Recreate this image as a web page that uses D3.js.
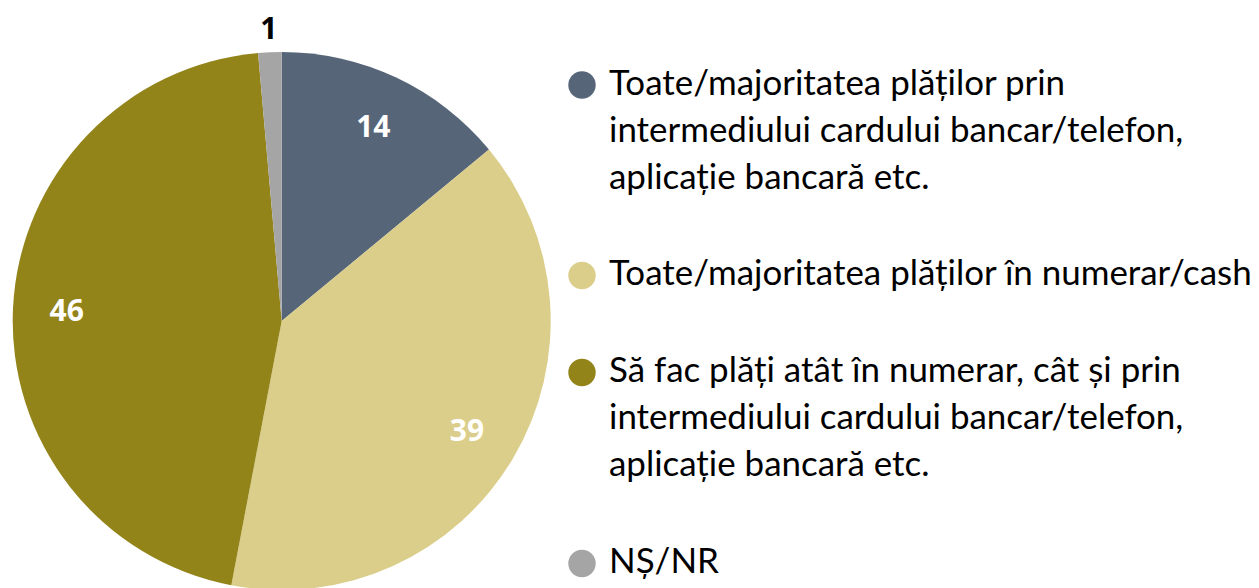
<!DOCTYPE html>
<html>
<head>
<meta charset="utf-8">
<script src="https://cdn.jsdelivr.net/npm/d3@7"></script>
<style>
  html, body { margin: 0; padding: 0; background: #ffffff; }
  svg { display: block; }
</style>
</head>
<body>
<svg id="chart" width="1259" height="588"></svg>
<script>
const categories = [
  ["Toate/majoritatea plăților prin", "intermediului cardului bancar/telefon,", "aplicație bancară etc."],
  ["Toate/majoritatea plăților în numerar/cash"],
  ["Să fac plăți atât în numerar, cât și prin", "intermediului cardului bancar/telefon,", "aplicație bancară etc."],
  ["NȘ/NR"]
];
const values = [14, 39, 45.6, 1.4];
const colors = ["#566678", "#DBCE8A", "#93841A", "#A5A5A5"];
const labelColors = ["#ffffff", "#ffffff", "#ffffff", "#000000"];

const svg = d3.select("#chart");
const cx = 281.7, cy = 321, R = 269;

const pie = d3.pie().sort(null).value(d => d)(values);
const arc = d3.arc().innerRadius(0).outerRadius(R);
const labelArc = d3.arc().innerRadius(R * 0.8).outerRadius(R * 0.8);
const outerLabelArc = d3.arc().innerRadius(R + 24).outerRadius(R + 24);

const g = svg.append("g").attr("transform", `translate(${cx},${cy})`);
g.selectAll("path.slice").data(pie).enter().append("path")
  .attr("class", "slice")
  .attr("d", arc)
  .attr("fill", (d, i) => colors[i]);

g.selectAll("text.val").data(pie).enter().append("text")
  .attr("class", "val")
  .attr("transform", (d, i) => {
    const p = (i === 3 ? outerLabelArc : labelArc).centroid(d);
    return `translate(${p[0]},${p[1]})`;
  })
  .attr("text-anchor", "middle")
  .attr("dy", "0.36em")
  .attr("font-family", "'Open Sans', sans-serif")
  .attr("font-weight", "bold")
  .attr("font-size", 30)
  .attr("fill", (d, i) => labelColors[i])
  .text((d, i) => Math.round(values[i]));

// Legend
const legX = 582, textX = 609;
const firstLineBaselines = [94.5, 285, 382, 573];
const lineStep = 47;
const targetWidth = 643;

const probe = svg.append("text").attr("font-family", "Lato, sans-serif").attr("font-size", 32).text(categories[1][0]);
const w = probe.node().getComputedTextLength();
probe.remove();
const fs = 32 * targetWidth / w;

const leg = svg.append("g");
categories.forEach((lines, i) => {
  const by = firstLineBaselines[i];
  leg.append("circle")
    .attr("cx", legX).attr("cy", by - 9.5).attr("r", 13.7)
    .attr("fill", colors[i]);
  const t = leg.append("text")
    .attr("font-family", "Lato, sans-serif")
    .attr("font-size", fs)
    .attr("fill", "#000000");
  lines.forEach((ln, j) => {
    t.append("tspan").attr("x", textX).attr("y", by + j * lineStep).text(ln);
  });
});
</script>
</body>
</html>
